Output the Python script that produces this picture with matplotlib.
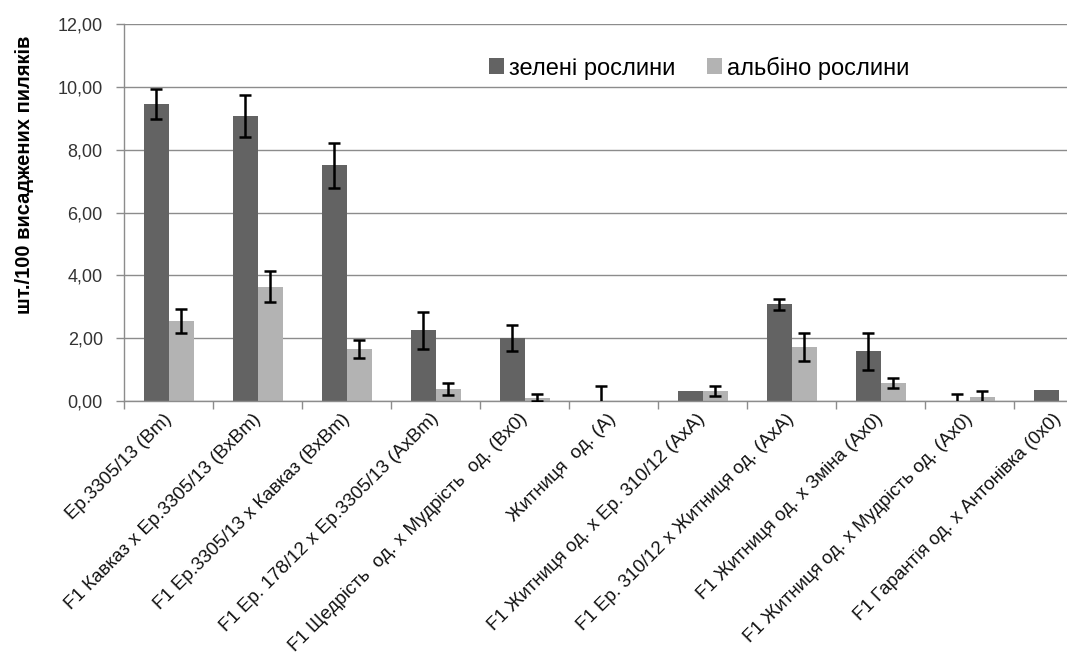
import numpy as np
import matplotlib
matplotlib.use("Agg")
import matplotlib.pyplot as plt

plt.rcParams['font.family'] = ['Liberation Sans', 'DejaVu Sans']

# categories (hybrid combinations)
categories = [
    "Ер.3305/13 (Bm)",
    "F1 Кавказ x Ер.3305/13 (BxBm)",
    "F1 Ер.3305/13 x Кавказ (BxBm)",
    "F1 Ер. 178/12 x Ер.3305/13 (AxBm)",
    "F1 Щедрість  од. x Мудрість  од. (Bx0)",
    "Житниця  од. (A)",
    "F1 Житниця од. x Ер. 310/12 (AxA)",
    "F1 Ер. 310/12 x Житниця од. (AxA)",
    "F1 Житниця од. x Зміна (Ax0)",
    "F1 Житниця од. x Мудрість од. (Ax0)",
    "F1 Гарантія од. x Антонівка (0x0)",
]

# green plants per 100 planted anthers, with error
green = [9.46, 9.07, 7.50, 2.25, 2.00, 0.00, 0.33, 3.08, 1.58, 0.00, 0.36]
green_err = [0.48, 0.67, 0.72, 0.59, 0.42, 0.48, 0.0, 0.17, 0.60, 0.21, 0.0]
# albino plants
albino = [2.56, 3.64, 1.66, 0.37, 0.11, 0.00, 0.33, 1.72, 0.58, 0.14, 0.00]
albino_err = [0.38, 0.49, 0.29, 0.19, 0.11, 0.0, 0.16, 0.45, 0.15, 0.19, 0.0]

yticks = [0, 2, 4, 6, 8, 10, 12]

fig = plt.figure(figsize=(10.67, 6.57), dpi=100)
ax = fig.add_axes([0.1165, 0.3896, 0.9175, 0.5738])

x = np.arange(len(categories))
w = 0.28
ax.bar(x - w / 2, green, width=w, color='#636363', label='зелені рослини', zorder=2)
ax.bar(x + w / 2, albino, width=w, color='#b3b3b3', label='альбіно рослини', zorder=2)

# error bars only where the source chart shows them
for offs, vals, errs in [(-w / 2, green, green_err), (w / 2, albino, albino_err)]:
    vals = np.array(vals)
    errs = np.array(errs)
    m = errs > 0
    ax.errorbar(x[m] + offs, vals[m], yerr=errs[m], fmt='none', ecolor='black',
                elinewidth=1.8, capsize=4.5, capthick=1.8, zorder=3)

ax.set_xlim(-0.5, len(categories) - 0.5)
ax.set_ylim(0, 12)
ax.set_yticks(yticks)
ax.set_yticklabels([f"{v:.2f}".replace('.', ',') for v in yticks], fontsize=13, color='#333333')
ax.yaxis.grid(True, color='#8c8c8c', linewidth=1.0, zorder=0)
ax.set_axisbelow(True)

ax.set_xticks(x)
ax.set_xticklabels(categories, rotation=45, ha='right', va='center',
                   rotation_mode='anchor', fontsize=13.5, color='#111111')
ax.tick_params(axis='x', which='major', length=0, pad=11)
ax.set_xticks(np.arange(len(categories) + 1) - 0.5, minor=True)
ax.tick_params(axis='x', which='minor', length=6, color='#8c8c8c', width=1)
ax.tick_params(axis='y', length=6, color='#8c8c8c', width=1, pad=9.5)

for s in ['top', 'right']:
    ax.spines[s].set_visible(False)
for s in ['left', 'bottom']:
    ax.spines[s].set_color('#8c8c8c')
    ax.spines[s].set_linewidth(1.0)

fig.text(0.0234, 0.734, "шт./100 висаджених пиляків", rotation=90, fontsize=14.5,
         fontweight='bold', ha='center', va='center')

fig.legend(loc='center left', bbox_to_anchor=(477 / 1067, 1 - 68 / 657), ncol=2,
           frameon=False, fontsize=17, borderpad=0, handlelength=0.64,
           handleheight=0.64, handletextpad=0.2, columnspacing=1.35)

fig.savefig('out.png', dpi=100)
